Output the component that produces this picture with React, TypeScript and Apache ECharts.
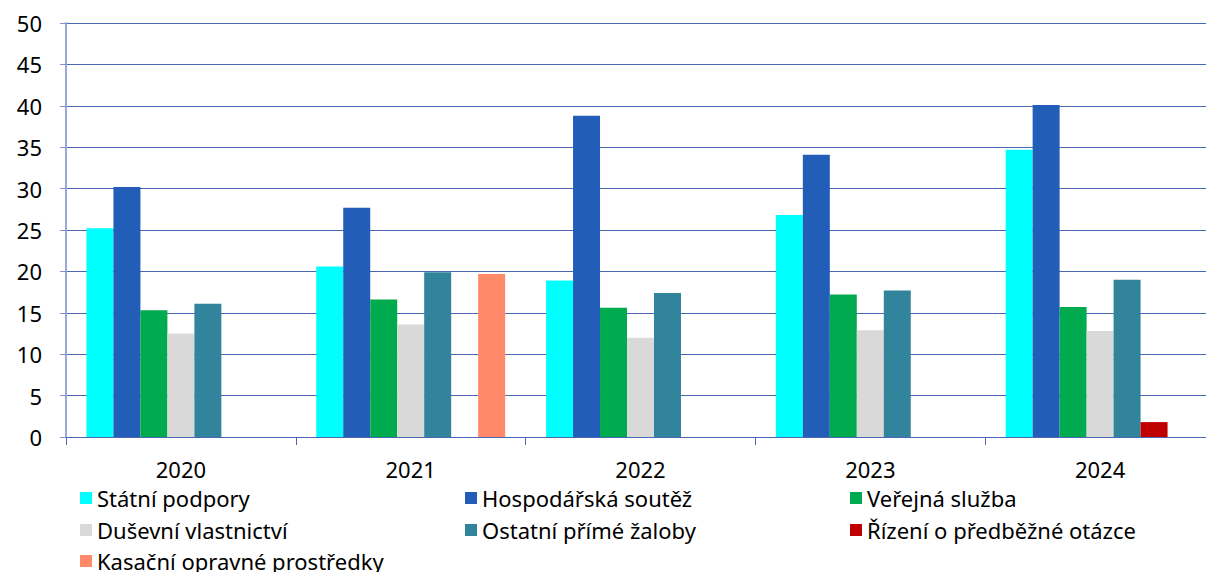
import React, { useEffect, useRef } from "react";
import * as echarts from "echarts";

const categories = ["2020", "2021", "2022", "2023", "2024"];
const seriesNames = [
  "Státní podpory",
  "Hospodářská soutěž",
  "Veřejná služba",
  "Duševní vlastnictví",
  "Ostatní přímé žaloby",
  "Řízení o předběžné otázce",
  "Kasační opravné prostředky",
];
const statniPodpory = [25.2, 20.6, 18.9, 26.8, 34.7];
const hospodarskaSoutez = [30.2, 27.7, 38.8, 34.1, 40.1];
const verejnaSluzba = [15.3, 16.6, 15.6, 17.2, 15.7];
const dusevniVlastnictvi = [12.5, 13.6, 12.0, 12.9, 12.8];
const ostatniPrimeZaloby = [16.1, 19.9, 17.4, 17.7, 19.0];
const rizeniOPredbezneOtazce = [null, null, null, null, 1.8];
const kasacniOpravneProstredky = [null, 19.7, null, null, null];
const yTicks = [0, 5, 10, 15, 20, 25, 30, 35, 40, 45, 50];

const colors = ["#00FFFF", "#225EB8", "#00AB4F", "#D9D9D9", "#31849B", "#C00000", "#FF8969"];
const values = [
  statniPodpory,
  hospodarskaSoutez,
  verejnaSluzba,
  dusevniVlastnictvi,
  ostatniPrimeZaloby,
  rizeniOPredbezneOtazce,
  kasacniOpravneProstredky,
];

const FONT = "Noto Sans";

export default function App() {
  const ref = useRef<HTMLDivElement>(null);
  useEffect(() => {
    if (!ref.current) return;
    const chart = echarts.init(ref.current, null, { renderer: "svg" });
    const legendPos = [
      [80, 487],
      [465, 487],
      [850, 487],
      [80, 519],
      [465, 519],
      [850, 519],
      [80, 550],
    ];
    chart.setOption({
      animation: false,
      grid: {
        left: 66,
        top: 23,
        width: 1149,
        height: 414,
        containLabel: false,
        outerBoundsMode: "none",
      },
      legend: seriesNames.map((n, i) => ({
        data: [n],
        left: legendPos[i][0],
        top: legendPos[i][1],
        itemWidth: 12,
        itemHeight: 12,
        itemGap: 0,
        icon: "rect",
        padding: 0,
        textStyle: { fontFamily: FONT, fontSize: 22, color: "#000" },
        selectedMode: false,
      })),
      xAxis: {
        type: "category",
        data: categories,
        axisLine: { lineStyle: { color: "#4a66b4", width: 1 } },
        axisTick: { show: true, length: 8, lineStyle: { color: "#4a66b4" } },
        axisLabel: { fontFamily: FONT, fontSize: 22, color: "#000", margin: 21 },
      },
      yAxis: {
        type: "value",
        min: 0,
        max: 50,
        interval: 5,
        axisLine: { show: true, lineStyle: { color: "#9aaad6", width: 2 } },
        axisTick: { show: true, length: 6, lineStyle: { color: "#7f93c9" } },
        axisLabel: {
          fontFamily: FONT,
          fontSize: 22,
          color: "#000",
          margin: 24,
          formatter: (v: number) => (yTicks.includes(v) ? String(v) : ""),
        },
        splitLine: { lineStyle: { color: "#4a66b4", width: 1 } },
      },
      series: seriesNames.map((n, i) => ({
        name: n,
        type: "bar",
        data: values[i],
        barGap: "0%",
        barCategoryGap: "17.8%",
        itemStyle: { color: colors[i] },
      })),
    });
    return () => chart.dispose();
  }, []);
  return (
    <div
      ref={ref}
      style={{ position: "fixed", left: 0, top: 0, width: 1206, height: 572, background: "#fff" }}
    />
  );
}
